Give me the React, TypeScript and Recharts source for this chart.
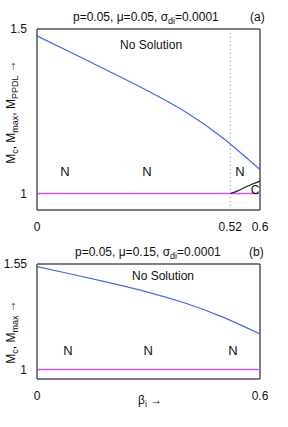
import {
  LineChart,
  Line,
  XAxis,
  YAxis,
  ReferenceLine,
  ReferenceDot,
} from "recharts";

// beta_i sample points
const betaA = [0, 0.1, 0.2, 0.3, 0.4, 0.5, 0.6];
const mMaxA = [1.479, 1.424, 1.368, 1.311, 1.248, 1.169, 1.073];
const betaC = [0.52, 0.54, 0.56, 0.58, 0.6];
const mPpdl = [1.0, 1.008, 1.019, 1.029, 1.038];
const betaB = [0, 0.1, 0.2, 0.3, 0.4, 0.5, 0.6];
const mMaxB = [1.536, 1.494, 1.45, 1.402, 1.345, 1.273, 1.185];
const mCrit = [1, 1];
const betaEnds = [0, 0.6];

const ticksXA = [0, 0.52, 0.6];
const ticksXB = [0, 0.6];
const ticksYA = [1, 1.5];
const ticksYB = [1, 1.55];

const zip = (xs: number[], ys: number[]) => xs.map((b, i) => ({ b, v: ys[i] }));

const FONT = '"Liberation Sans", Arial, sans-serif';
const BLUE = "#4468ee";
const MAGENTA = "#cc55ff";
const FRAME = "#555";

const tickStyle = { fill: "#111", fontSize: 12, fontFamily: FONT };
const frameLine = { stroke: FRAME, strokeWidth: 1.5 };

function textDot(x: number, y: number, value: string, size = 13) {
  return (
    <ReferenceDot
      key={value + x}
      x={x}
      y={y}
      r={0}
      fill="none"
      stroke="none"
      label={{ value, position: "center", fill: "#111", fontSize: size, fontFamily: FONT }}
    />
  );
}

const abs = (left: number, top: number): React.CSSProperties => ({
  position: "absolute",
  left,
  top,
  fontFamily: FONT,
  fontSize: 12,
  color: "#111",
  whiteSpace: "nowrap",
  lineHeight: 1,
});

const sub: React.CSSProperties = { fontSize: 9, verticalAlign: "-3px" };

export default function App() {
  return (
    <div style={{ position: "absolute", left: 0, top: 0, width: 288, height: 427, background: "#fff" }}>
      {/* panel (a) */}
      <div style={{ position: "absolute", left: 0, top: 0 }}>
        <LineChart width={288} height={240} margin={{ top: 29, right: 28, left: 0, bottom: 10 }}>
          <XAxis
            dataKey="b"
            type="number"
            domain={[0, 0.6]}
            ticks={ticksXA}
            height={20}
            axisLine={frameLine}
            tickLine={false}
            tickMargin={6}
            tick={tickStyle}
            allowDataOverflow
          />
          <YAxis
            type="number"
            domain={[0.95, 1.5]}
            ticks={ticksYA}
            width={37}
            axisLine={frameLine}
            tickLine={false}
            tickMargin={4}
            tick={tickStyle}
            allowDataOverflow
          />
          <ReferenceLine y={1.5} {...frameLine} />
          <ReferenceLine x={0.6} {...frameLine} />
          <ReferenceLine x={0.52} stroke="#888" strokeDasharray="1 3" />
          <Line data={zip(betaEnds, mCrit)} dataKey="v" stroke={MAGENTA} strokeWidth={1.5} dot={false} isAnimationActive={false} />
          <Line data={zip(betaA, mMaxA)} dataKey="v" type="natural" stroke={BLUE} strokeWidth={1.2} dot={false} isAnimationActive={false} />
          <Line data={zip(betaC, mPpdl)} dataKey="v" type="natural" stroke="#222" strokeWidth={1.2} dot={false} isAnimationActive={false} />
          {textDot(0.307, 1.452, "No Solution", 12)}
          {textDot(0.075, 1.067, "N")}
          {textDot(0.296, 1.067, "N")}
          {textDot(0.546, 1.067, "N")}
          {textDot(0.587, 1.012, "C", 12)}
        </LineChart>
      </div>
      <div style={{ ...abs(73, 11) }}>
        p=0.05, μ=0.05, σ<span style={sub}>di</span>=0.0001
      </div>
      <div style={{ ...abs(250, 11) }}>(a)</div>
      <div
        style={{
          ...abs(12, 112),
          transform: "translate(-50%, -50%) rotate(-90deg)",
        }}
      >
        M<span style={sub}>c</span>, M<span style={sub}>max</span>, M<span style={sub}>PPDL</span> →
      </div>

      {/* panel (b) */}
      <div style={{ position: "absolute", left: 0, top: 240 }}>
        <LineChart width={288} height={169} margin={{ top: 24, right: 28, left: 0, bottom: 10 }}>
          <XAxis
            dataKey="b"
            type="number"
            domain={[0, 0.6]}
            ticks={ticksXB}
            height={20}
            axisLine={frameLine}
            tickLine={false}
            tickMargin={6}
            tick={tickStyle}
            allowDataOverflow
          />
          <YAxis
            type="number"
            domain={[0.95, 1.55]}
            ticks={ticksYB}
            width={37}
            axisLine={frameLine}
            tickLine={false}
            tickMargin={4}
            tick={tickStyle}
            allowDataOverflow
          />
          <ReferenceLine y={1.55} {...frameLine} />
          <ReferenceLine x={0.6} {...frameLine} />
          <Line data={zip(betaEnds, mCrit)} dataKey="v" stroke={MAGENTA} strokeWidth={1.5} dot={false} isAnimationActive={false} />
          <Line data={zip(betaB, mMaxB)} dataKey="v" type="natural" stroke={BLUE} strokeWidth={1.2} dot={false} isAnimationActive={false} />
          {textDot(0.339, 1.488, "No Solution", 12)}
          {textDot(0.083, 1.099, "N")}
          {textDot(0.299, 1.099, "N")}
          {textDot(0.527, 1.099, "N")}
        </LineChart>
      </div>
      <div style={{ ...abs(75, 246) }}>
        p=0.05, μ=0.15, σ<span style={sub}>di</span>=0.0001
      </div>
      <div style={{ ...abs(249, 246) }}>(b)</div>
      <div
        style={{
          ...abs(12, 332),
          transform: "translate(-50%, -50%) rotate(-90deg)",
        }}
      >
        M<span style={sub}>c</span>, M<span style={sub}>max</span> →
      </div>
      <div style={{ ...abs(138, 394) }}>
        β<span style={sub}>i</span> →
      </div>
    </div>
  );
}
